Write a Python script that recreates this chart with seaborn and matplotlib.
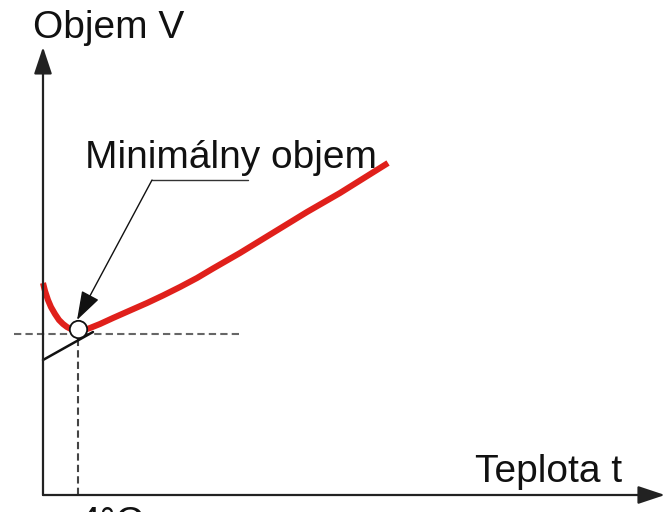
import numpy as np
import pandas as pd
import matplotlib
matplotlib.use('Agg')
import matplotlib.pyplot as plt
import seaborn as sns

# temperature t (deg C) and volume V (arbitrary units)
temp = [0, 0.23, 0.57, 0.91, 1.37, 1.83, 2.29, 2.74, 3.31, 4.0, 4.69, 5.37, 6.51,
        8.0, 9.94, 11.89, 13.71, 15.66, 17.6, 19.43, 22.51, 30.17, 33.94, 39.43]
volume = [21.2, 20.4, 19.5, 18.8, 18.1, 17.5, 17.1, 16.8, 16.55, 16.45, 16.5, 16.7, 17.1,
          17.7, 18.45, 19.2, 19.95, 20.8, 21.7, 22.65, 24.2, 28.3, 30.2, 33.2]

# linear tangent (black) below the minimum
tangent_t = [0, 5.71]
tangent_v = [13.5, 16.3]

min_t = 4.0
min_v = 16.6
guide_v = 16.1

labels = {'y': 'Objem V', 'x': 'Teplota t', 'min': 'Minimálny objem', 'tick': '4°C'}

W, H = 665, 512
sns.set_style('white')
plt.rcParams['font.family'] = ['Liberation Sans', 'DejaVu Sans']

fig = plt.figure(figsize=(W / 100, H / 100), dpi=100)
ax = fig.add_axes([0, 0, 1, 1])
ax.set_xlim(-4.914, 71.086)
ax.set_ylim(-1.7, 49.5)
ax.axis('off')

# axes with arrows
arrow_kw = dict(arrowstyle='-|>,head_length=1.65,head_width=0.55', color='#222222',
                lw=1.6, shrinkA=0, shrinkB=0, mutation_scale=10)
ax.annotate('', xy=(71.08, 0), xytext=(0, 0), arrowprops=arrow_kw)
ax.annotate('', xy=(0, 44.8), xytext=(0, 0), arrowprops=arrow_kw)

# dashed guides
ax.plot([-3.31, 22.86], [guide_v, guide_v], color='#666666', lw=1.5, ls=(0, (3.5, 2)))
ax.plot([min_t, min_t], [0, guide_v], color='#444444', lw=1.5, ls=(0, (3.5, 2)))

# tangent and curve
ax.plot(tangent_t, tangent_v, color='#111111', lw=1.8)
df = pd.DataFrame({'t': temp, 'V': volume})
sns.lineplot(data=df, x='t', y='V', ax=ax, color='#e0201b', lw=4.4,
             solid_capstyle='butt', solid_joinstyle='round')

ax.plot([min_t], [min_v], marker='o', ms=12.5, mfc='white', mec='#111111', mew=1.3, zorder=5)

# annotation: underline + arrow to minimum
ax.plot([12.46, 23.43], [31.5, 31.5], color='#333333', lw=1.0)
ax.annotate('', xy=(3.89, 17.5), xytext=(12.46, 31.5),
            arrowprops=dict(arrowstyle='-|>,head_length=1.8,head_width=0.6', color='#111111',
                            lw=1.0, shrinkA=0, shrinkB=0, mutation_scale=10), zorder=6)


def fx(px):
    return px / W


def fy(py):
    return 1 - py / H


fs = 28
fig.text(fx(33), fy(38), labels['y'], fontsize=fs, va='baseline', ha='left', color='#111111')
fig.text(fx(85), fy(168), labels['min'], fontsize=fs, va='baseline', ha='left', color='#111111')
fig.text(fx(475), fy(482), labels['x'], fontsize=fs, va='baseline', ha='left', color='#111111')
fig.text(fx(78), fy(534), labels['tick'], fontsize=fs, va='baseline', ha='left', color='#111111')

fig.savefig('out.png', dpi=100)
